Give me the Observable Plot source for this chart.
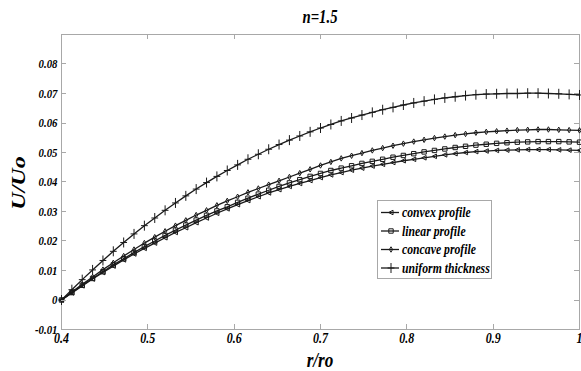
<!DOCTYPE html>
<html><head><meta charset="utf-8">
<script src="https://cdn.jsdelivr.net/npm/d3@7"></script>
<script src="https://cdn.jsdelivr.net/npm/@observablehq/plot@0.6"></script>
<style>
html,body{margin:0;padding:0;background:#fff;}
#chart{width:581px;height:371px;overflow:hidden;}
</style></head><body><div id="chart"></div>
<script>
// r/ro positions
const rRatio = [0.4,0.412,0.424,0.436,0.448,0.46,0.472,0.484,0.496,0.508,0.52,0.532,0.544,0.556,0.568,0.58,0.592,0.604,0.616,0.628,0.64,0.652,0.664,0.676,0.688,0.7,0.712,0.724,0.736,0.748,0.76,0.772,0.784,0.796,0.808,0.82,0.832,0.844,0.856,0.868,0.88,0.892,0.904,0.916,0.928,0.94,0.952,0.964,0.976,0.988,1.0];
// U/Uo for each profile
const convex = [0,0.0024,0.0048,0.0071,0.0093,0.0115,0.0136,0.0156,0.0175,0.0193,0.0211,0.0229,0.0245,0.0262,0.0278,0.0294,0.0309,0.0323,0.0337,0.0350,0.0363,0.0374,0.0385,0.0395,0.0405,0.0415,0.0424,0.0432,0.0440,0.0447,0.0454,0.0460,0.0466,0.0472,0.0477,0.0482,0.0487,0.0492,0.0496,0.0500,0.0503,0.0505,0.0507,0.0508,0.0509,0.0510,0.0510,0.0510,0.0509,0.0508,0.0507];
const linear = [0,0.0025,0.0050,0.0073,0.0096,0.0119,0.0140,0.0161,0.0181,0.0200,0.0219,0.0237,0.0254,0.0271,0.0287,0.0302,0.0316,0.0331,0.0345,0.0359,0.0372,0.0385,0.0397,0.0408,0.0419,0.0429,0.0439,0.0447,0.0455,0.0463,0.0470,0.0477,0.0484,0.0490,0.0496,0.0502,0.0507,0.0512,0.0517,0.0521,0.0525,0.0528,0.0531,0.0533,0.0535,0.0536,0.0537,0.0537,0.0537,0.0536,0.0535];
const concave = [0,0.0027,0.0053,0.0078,0.0103,0.0126,0.0149,0.0171,0.0193,0.0213,0.0233,0.0252,0.0270,0.0288,0.0304,0.0321,0.0336,0.0350,0.0365,0.0378,0.0391,0.0404,0.0417,0.0430,0.0443,0.0456,0.0468,0.0480,0.0489,0.0498,0.0507,0.0515,0.0523,0.0530,0.0537,0.0543,0.0549,0.0554,0.0559,0.0563,0.0567,0.0570,0.0572,0.0574,0.0576,0.0577,0.0578,0.0578,0.0577,0.0576,0.0575];
const uniform = [0,0.0035,0.0069,0.0102,0.0134,0.0165,0.0195,0.0224,0.0252,0.0278,0.0304,0.0329,0.0353,0.0376,0.0398,0.0419,0.0439,0.0458,0.0477,0.0494,0.0511,0.0527,0.0542,0.0556,0.0570,0.0583,0.0595,0.0607,0.0617,0.0627,0.0636,0.0645,0.0653,0.0661,0.0668,0.0674,0.0680,0.0685,0.0689,0.0693,0.0696,0.0698,0.0699,0.0700,0.0700,0.0701,0.0701,0.0700,0.0699,0.0697,0.0695];

const seriesNames = ["convex profile","linear profile","concave profile","uniform thickness"];
const xTicks = [0.4,0.5,0.6,0.7,0.8,0.9,1];
const xTickLabels = ["0.4","0.5","0.6","0.7","0.8","0.9","1"];
const yTicks = [-0.01,0,0.01,0.02,0.03,0.04,0.05,0.06,0.07,0.08];
const yTickLabels = ["-0.01","0","0.01","0.02","0.03","0.04","0.05","0.06","0.07","0.08"];
const titleText = "n=1.5";
const xLabelText = "r/ro";
const yLabelText = "U/Uo";

// custom hollow marker shapes (MATLAB-like)
const rad = s => Math.sqrt(s / Math.PI);
const symLeft = {draw(c, s){const r=rad(s); c.moveTo(-r,0); c.lineTo(r*0.85,-r*0.95); c.lineTo(r*0.85,r*0.95); c.closePath();}};
const symSquare = {draw(c, s){const r=rad(s); c.moveTo(-r,-r); c.lineTo(r,-r); c.lineTo(r,r); c.lineTo(-r,r); c.closePath();}};
const symDiamond = {draw(c, s){const r=rad(s); c.moveTo(0,-1.3*r); c.lineTo(0.75*r,0); c.lineTo(0,1.3*r); c.lineTo(-0.75*r,0); c.closePath();}};
const symPlus = {draw(c, s){const r=rad(s); c.moveTo(-0.85*r,0); c.lineTo(0.85*r,0); c.moveTo(0,-1.25*r); c.lineTo(0,1.25*r);}};
const symbols = [symLeft, symSquare, symDiamond, symPlus];
const symR = [2.4, 2.2, 2.1, 4];

const allSeries = [convex, linear, concave, uniform];
const INK = "#1a1a1a";
const GRID = "#a8a8a8";
const FONT = "'Liberation Serif','Times New Roman',serif";

const marks = [Plot.frame({stroke: GRID})];
allSeries.forEach((vals, k) => {
  const rows = rRatio.map((x, i) => ({x, y: vals[i]}));
  marks.push(Plot.line(rows, {x: "x", y: "y", stroke: INK, strokeWidth: 1.3}));
  marks.push(Plot.dot(rows, {x: "x", y: "y", symbol: symbols[k], r: symR[k], stroke: INK, strokeWidth: 1, fill: "none"}));
});
marks.push(Plot.axisX(xTicks, {anchor: "bottom", tickSize: 0, tickPadding: 3, fontSize: 15, label: null,
  tickFormat: d => xTickLabels[xTicks.indexOf(d)]}));
marks.push(Plot.axisY(yTicks, {anchor: "left", tickSize: 0, tickPadding: 4, fontSize: 13.5, label: null,
  tickFormat: d => yTickLabels[yTicks.indexOf(d)]}));

const chart = Plot.plot({
  width: 581, height: 371,
  marginLeft: 61, marginRight: 2, marginTop: 34, marginBottom: 42,
  style: {fontFamily: FONT, fontStyle: "italic", fontWeight: "bold", background: "#fff", color: "#000", overflow: "visible"},
  x: {domain: [0.4, 1], label: null},
  y: {domain: [-0.01, 0.09], label: null},
  marks
});
document.getElementById("chart").appendChild(chart);

const svg = d3.select(chart);
const sx = chart.scale("x"), sy = chart.scale("y");
const X0 = sx.apply(0.4), X1 = sx.apply(1), Y0 = sy.apply(0.09), Y1 = sy.apply(-0.01);

// condense tick labels horizontally like the source
svg.selectAll("g[aria-label='x-axis tick label'] text, g[aria-label='y-axis tick label'] text").each(function(){
  const t = this.getAttribute("transform") || "";
  this.setAttribute("transform", t + " scale(0.8,1)");
  this.setAttribute("font-weight", "bold");
});

// inward ticks on all four sides
const tg = svg.append("g").attr("stroke", GRID).attr("stroke-width", 1);
const TL = 5;
xTicks.forEach(t => {
  const px = Math.round(sx.apply(t)) + 0.5;
  tg.append("line").attr("x1", px).attr("x2", px).attr("y1", Y1).attr("y2", Y1 - TL);
  tg.append("line").attr("x1", px).attr("x2", px).attr("y1", Y0).attr("y2", Y0 + TL);
});
yTicks.forEach(t => {
  const py = Math.round(sy.apply(t)) + 0.5;
  tg.append("line").attr("y1", py).attr("y2", py).attr("x1", X0).attr("x2", X0 + TL);
  tg.append("line").attr("y1", py).attr("y2", py).attr("x1", X1).attr("x2", X1 - TL);
});

function addText(parent, transform, txt, size, anchor) {
  return parent.append("g").attr("transform", transform)
    .append("text").attr("text-anchor", anchor).attr("font-size", size).attr("font-family", FONT)
    .attr("font-style", "italic").attr("font-weight", "bold").attr("fill", "#000").text(txt);
}

// title and axis labels
const cx = (X0 + X1) / 2;
addText(svg, `translate(${cx},23) scale(0.82,1)`, titleText, 18, "middle");
addText(svg, `translate(${cx},367) scale(0.78,1)`, xLabelText, 22, "middle");
addText(svg, `translate(25,183) rotate(-90) scale(1,0.78)`, yLabelText, 24, "middle");

// legend box
const lg = svg.append("g");
lg.append("rect").attr("x", 377.5).attr("y", 200.5).attr("width", 114).attr("height", 78)
  .attr("fill", "#fff").attr("stroke", GRID);
const rowY = [212.5, 231, 249.5, 268];
seriesNames.forEach((name, k) => {
  const y = rowY[k];
  lg.append("line").attr("x1", 381).attr("x2", 399).attr("y1", y).attr("y2", y).attr("stroke", INK).attr("stroke-width", 1.3);
  lg.append("path").attr("transform", `translate(391,${y})`)
    .attr("d", d3.symbol(symbols[k], Math.PI * symR[k] * symR[k])())
    .attr("fill", "none").attr("stroke", INK).attr("stroke-width", 1);
  addText(lg, `translate(402,${y + 4.5}) scale(0.84,1)`, name, 14, "start");
});
</script></body></html>
